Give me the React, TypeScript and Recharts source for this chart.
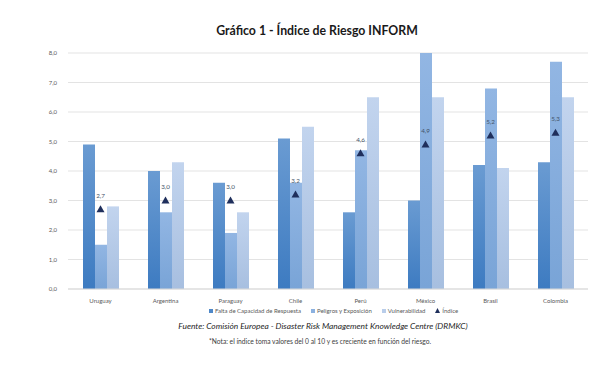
import React from 'react';
import { ComposedChart, Bar, Scatter, XAxis, YAxis, CartesianGrid, LabelList } from 'recharts';

const countries = ['Uruguay', 'Argentina', 'Paraguay', 'Chile', 'Perú', 'México', 'Brasil', 'Colombia'];
const faltaCapacidad = [4.9, 4.0, 3.6, 5.1, 2.6, 3.0, 4.2, 4.3];
const peligros = [1.5, 2.6, 1.9, 3.6, 4.7, 8.0, 6.8, 7.7];
const vulnerabilidad = [2.8, 4.3, 2.6, 5.5, 6.5, 6.5, 4.1, 6.5];
const indice = [2.7, 3.0, 3.0, 3.2, 4.6, 4.9, 5.2, 5.3];
const yTicks = [0, 1, 2, 3, 4, 5, 6, 7, 8];

const seriesNames = ['Falta de Capacidad de Respuesta', 'Peligros y Exposición', 'Vulnerabilidad', 'Índice'];

const data = countries.map((c, i) => ({
  name: c,
  falta: faltaCapacidad[i],
  peligros: peligros[i],
  vuln: vulnerabilidad[i],
  indice: indice[i],
}));

const FONT = 'Lato, "Open Sans", sans-serif';
const fmt = (v: number) => v.toFixed(1).replace('.', ',');

const Triangle = (props: any) => {
  const { cx, cy } = props;
  if (cx == null || cy == null) return null;
  return <polygon points={`${cx},${cy - 4} ${cx + 4},${cy + 3} ${cx - 4},${cy + 3}`} fill="#1f2f5c" />;
};

const legendColors = ['#4f88c8', '#8bb1e0', '#b9cdea'];

export default function App() {
  return (
    <div style={{ position: 'fixed', left: 0, top: 0, width: 608, height: 368, background: '#fff', fontFamily: FONT }}>
      <div style={{ position: 'absolute', left: 26, width: 582, top: 23, textAlign: 'center', fontSize: 12.3, fontWeight: 700, color: '#1a1a1a' }}>
        Gráfico 1 - Índice de Riesgo INFORM
      </div>
      <ComposedChart width={608} height={368} data={data} margin={{ top: 53, right: 20, bottom: 59, left: 28 }} barGap={0} barSize={12}>
        <defs>
          <linearGradient id="g1" x1="0" y1="0" x2="0" y2="1">
            <stop offset="0%" stopColor="#6a9bd2" />
            <stop offset="100%" stopColor="#3d7bc1" />
          </linearGradient>
          <linearGradient id="g2" x1="0" y1="0" x2="0" y2="1">
            <stop offset="0%" stopColor="#92b6e3" />
            <stop offset="100%" stopColor="#79a4d7" />
          </linearGradient>
          <linearGradient id="g3" x1="0" y1="0" x2="0" y2="1">
            <stop offset="0%" stopColor="#c2d4ee" />
            <stop offset="100%" stopColor="#a7bfe0" />
          </linearGradient>
        </defs>
        <CartesianGrid vertical={false} stroke="#e3e3e3" />
        <XAxis dataKey="name" height={20} tickLine={false} axisLine={{ stroke: '#d9d9d9' }} tick={{ fontSize: 6, fill: '#595959', fontFamily: FONT }} tickMargin={4} />
        <YAxis width={40} domain={[0, 8]} ticks={yTicks} tickFormatter={fmt} axisLine={false} tickLine={false} tick={{ fontSize: 6, fill: '#595959', fontFamily: FONT }} tickMargin={5} />
        <Bar dataKey="falta" name={seriesNames[0]} fill="url(#g1)" isAnimationActive={false} />
        <Bar dataKey="peligros" name={seriesNames[1]} fill="url(#g2)" isAnimationActive={false} />
        <Bar dataKey="vuln" name={seriesNames[2]} fill="url(#g3)" isAnimationActive={false} />
        <Scatter dataKey="indice" name={seriesNames[3]} shape={<Triangle />} isAnimationActive={false}>
          <LabelList dataKey="indice" position="top" offset={7} formatter={(v: any) => fmt(Number(v))} style={{ fontSize: 6.3, fill: '#44546a', fontFamily: FONT }} />
        </Scatter>
      </ComposedChart>
      <div style={{ position: 'absolute', top: 307, left: 209, display: 'flex', fontSize: 6, color: '#595959', whiteSpace: 'nowrap' }}>
        {seriesNames.map((n, i) => (
          <div key={n} style={{ display: 'flex', alignItems: 'center', marginRight: 10 }}>
            {i < 3 ? (
              <span style={{ display: 'inline-block', width: 4, height: 4, background: legendColors[i], marginRight: 2 }} />
            ) : (
              <svg width={5} height={5} style={{ marginRight: 2 }}><polygon points="2.5,0 5,5 0,5" fill="#1f2f5c" /></svg>
            )}
            <span>{n}</span>
          </div>
        ))}
      </div>
      <div style={{ position: 'absolute', top: 321, left: 0, width: 608, textAlign: 'center', paddingLeft: 38, boxSizing: 'border-box', fontSize: 8.4, fontStyle: 'italic', color: '#262626' }}>
        Fuente: Comisión Europea - Disaster Risk Management Knowledge Centre (DRMKC)
      </div>
      <div style={{ position: 'absolute', top: 337, left: 0, width: 608, textAlign: 'center', paddingLeft: 32, boxSizing: 'border-box', fontSize: 6.7, color: '#404040' }}>
        *Nota: el índice toma valores del 0 al 10 y es creciente en función del riesgo.
      </div>
    </div>
  );
}
